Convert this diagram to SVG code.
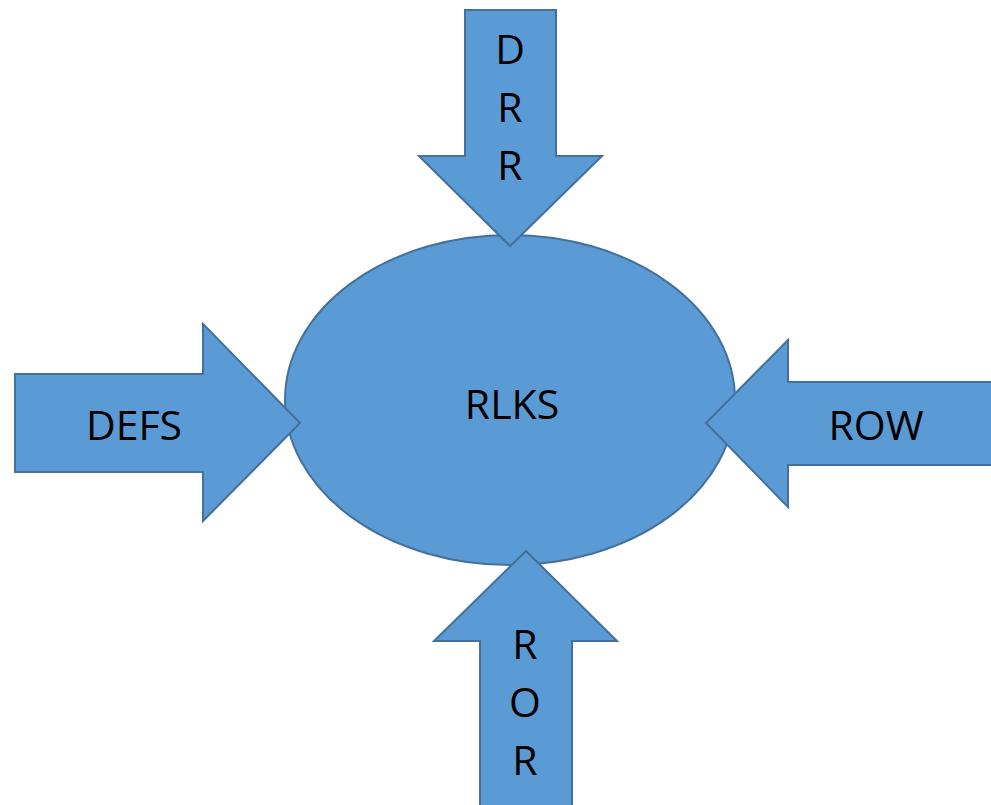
<svg xmlns="http://www.w3.org/2000/svg" width="991" height="805" viewBox="0 0 991 805">
<style>
.s{fill:#5B9BD5;stroke:#41719C;stroke-width:2;stroke-linejoin:miter}
.t{font-family:"Open Sans","Liberation Sans",sans-serif;font-size:41px;fill:#000;text-anchor:middle}
</style>
<rect width="991" height="805" fill="#fff"/>
<g id="center">
<ellipse class="s" cx="510" cy="400" rx="225" ry="165"/>
<text class="t" x="512" y="419">RLKS</text>
</g>
<g id="connectors">
<g id="top">
<polygon class="s" points="465,10 556,10 556,156 602,156 510,246 419,156 465,156"/>
<text class="t" x="510" y="64">D</text>
<text class="t" x="510" y="122">R</text>
<text class="t" x="510" y="180">R</text>
</g>
<g id="left">
<polygon class="s" points="15,374 203,374 203,324 300,423 203,521 203,472 15,472"/>
<text class="t" x="134" y="440">DEFS</text>
</g>
<g id="right">
<polygon class="s" points="1000,382 788,382 788,340 706,423 788,507 788,465 1000,465"/>
<text class="t" x="876" y="440">ROW</text>
</g>
<g id="bottom">
<polygon class="s" points="480,815 480,641 434,641 526,551 617,641 572,641 572,815"/>
<text class="t" x="525" y="659">R</text>
<text class="t" x="525" y="717">O</text>
<text class="t" x="525" y="775">R</text>
</g>
</g>
</svg>
